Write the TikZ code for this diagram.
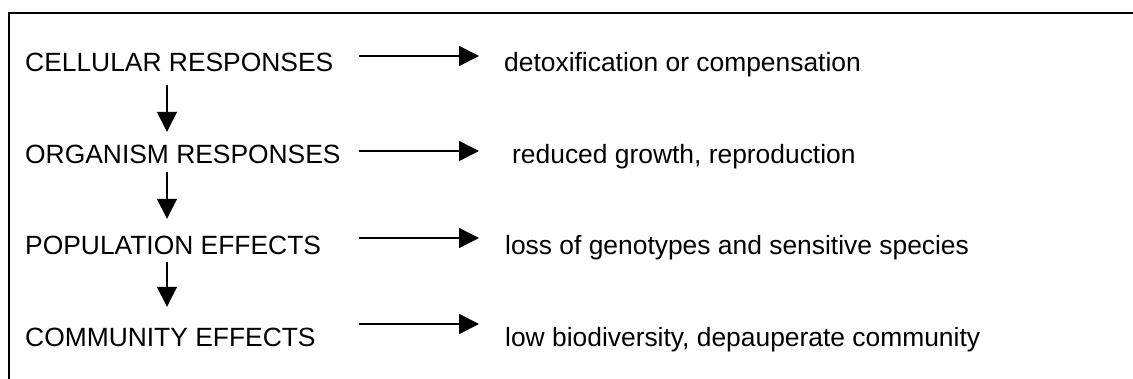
\documentclass[tikz,border=0pt]{standalone}
\usepackage{fontspec}
\setmainfont{Liberation Sans}
\usetikzlibrary{arrows.meta}
\begin{document}
\begin{tikzpicture}[x=1pt,y=-1pt]
  \useasboundingbox (0,0) rectangle (1133,379);
  \draw[line width=2pt] (9,379) -- (9,13) -- (1133,13);

  \begin{scope}[every node/.style={anchor=base west,inner sep=0pt,text height=19pt,text depth=0pt,font=\fontsize{26.4}{30}\selectfont}]
    \node (c1) at (25,72)   {CELLULAR RESPONSES};
    \node (c2) at (25,164)  {ORGANISM RESPONSES};
    \node (c3) at (25,255)  {POPULATION EFFECTS};
    \node (c4) at (25,347)  {COMMUNITY EFFECTS};
    \node (e1) at (504,72)  {detoxification or compensation};
    \node (e2) at (512,164) {reduced growth, reproduction};
    \node (e3) at (505,255) {loss of genotypes and sensitive species};
    \node (e4) at (505,347) {low biodiversity, depauperate community};
  \end{scope}

  \coordinate (s1) at (359,56);
  \coordinate (t1) at (479,56);
  \coordinate (s2) at (359,151);
  \coordinate (t2) at (479,151);
  \coordinate (s3) at (359,238);
  \coordinate (t3) at (479,238);
  \coordinate (s4) at (359,324);
  \coordinate (t4) at (479,324);

  \begin{scope}[every edge/.style={draw,line width=1.4pt,-{Triangle[length=20pt,width=20pt]}}]
    \path (s1) edge (t1);
    \path (s2) edge (t2);
    \path (s3) edge (t3);
    \path (s4) edge (t4);
    \path ([xshift=142pt]c1.south west) edge[shorten <=13pt,shorten >=13pt] ([xshift=142pt]c2.north west);
    \path ([xshift=142pt]c2.south west) edge[shorten <=8pt,shorten >=17pt] ([xshift=142pt]c3.north west);
    \path ([xshift=142pt]c3.south west) edge[shorten <=7pt,shorten >=21pt] ([xshift=142pt]c4.north west);
  \end{scope}

\end{tikzpicture}
\end{document}
